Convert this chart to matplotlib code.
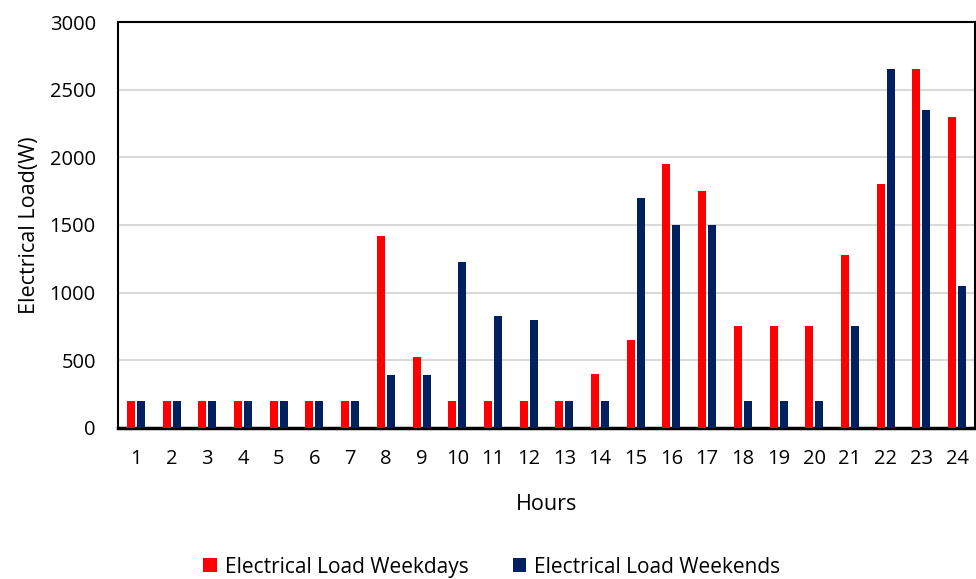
import numpy as np
import matplotlib
matplotlib.use("Agg")
import matplotlib.pyplot as plt

plt.rcParams['font.family'] = ['Open Sans', 'DejaVu Sans']

hours = list(range(1, 25))
weekdays = [200, 200, 200, 200, 200, 200, 200, 1420, 525, 200, 200, 200,
            200, 400, 650, 1950, 1750, 750, 750, 750, 1275, 1800, 2650, 2300]
weekends = [200, 200, 200, 200, 200, 200, 200, 390, 390, 1230, 830, 800,
            200, 200, 1700, 1500, 1500, 200, 200, 200, 750, 2650, 2350, 1050]
y_ticks = [0, 500, 1000, 1500, 2000, 2500, 3000]

fig = plt.figure(figsize=(9.76, 5.79), dpi=100)
ax = fig.add_axes([0.1209, 0.2608, 0.8781, 0.7012])

x = np.arange(len(hours))
bw = 0.224
off = 0.14
ax.bar(x - off, weekdays, width=bw, color='#FF0000', label='Electrical Load Weekdays', zorder=3)
ax.bar(x + off, weekends, width=bw, color='#002060', label='Electrical Load Weekends', zorder=3)

ax.set_xlim(-0.5, len(hours) - 0.5)
ax.set_ylim(0, 3000)
ax.set_yticks(y_ticks)
ax.set_xticks(x)
ax.set_xticklabels([str(h) for h in hours])
ax.tick_params(axis='both', length=0, labelsize=14.5, colors='black')
ax.tick_params(axis='x', pad=15)
ax.tick_params(axis='y', pad=16)
ax.yaxis.grid(True, color='#d9d9d9', linewidth=1.5, zorder=0)
ax.set_axisbelow(True)

for side in ['left', 'top', 'right']:
    ax.spines[side].set_color('black')
    ax.spines[side].set_linewidth(1.5)
ax.spines['bottom'].set_color('black')
ax.spines['bottom'].set_linewidth(2.5)

ax.set_xlabel('Hours', fontsize=15.5, labelpad=18)
ax.set_ylabel('Electrical Load(W)', fontsize=15.5, labelpad=7)

fig.legend(loc='lower center', bbox_to_anchor=(0.504, -0.03), ncol=2, frameon=False,
           fontsize=15, handlelength=0.65, handleheight=0.65, handletextpad=0.4,
           columnspacing=2.1)

fig.savefig('out.png', dpi=100)
